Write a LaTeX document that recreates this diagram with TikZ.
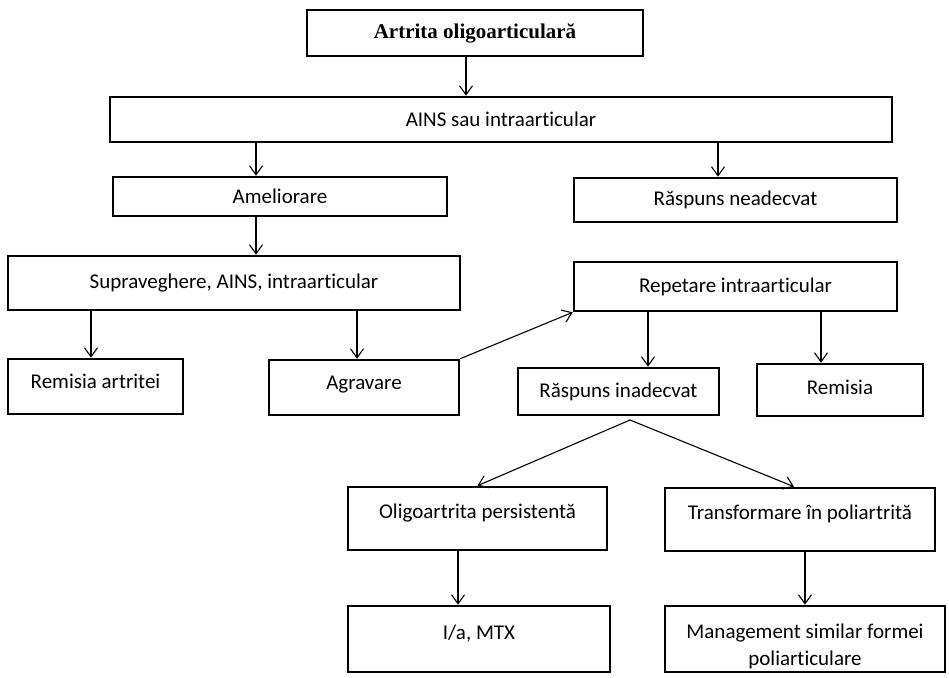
\documentclass[tikz,border=0pt]{standalone}
\usepackage{fontspec}
\setmainfont[Ligatures=NoCommon]{Carlito}
\newfontfamily\titlefont{Liberation Serif}
\usetikzlibrary{arrows.meta}
\tikzset{
  box/.style={draw=black, line width=2.6pt, inner sep=0pt, align=center, font=\fontsize{21}{27}\selectfont},
  arr/.style={line width=1.1pt, -{Straight Barb[length=9pt,width=13pt,line width=1.1pt]}},
  ln/.style={line width=1.1pt}
}
\begin{document}
\begin{tikzpicture}[x=1pt,y=-1pt]
\useasboundingbox (0,0) rectangle (949,677);
\node[box, minimum width=336pt, minimum height=46pt, font=\titlefont\bfseries\fontsize{21}{25}\selectfont] (n1) at (475,33) {Artrita oligoarticulară};
\node[box, minimum width=782pt, minimum height=45pt] (n2) at (501,119.5) {AINS sau intraarticular};
\node[box, minimum width=334pt, minimum height=39pt] (n3) at (280,196.5) {Ameliorare};
\node[box, minimum width=323pt, minimum height=44pt] (n4) at (735.5,200) {Răspuns neadecvat};
\node[box, minimum width=452pt, minimum height=54pt] (n5) at (234,283) {Supraveghere, AINS, intraarticular};
\node[box, minimum width=323pt, minimum height=49pt] (n6) at (735.5,286.5) {Repetare intraarticular};
\node[box, minimum width=175pt, minimum height=55pt, text height=15pt, text depth=11pt] (n7) at (95.5,386.5) {Remisia artritei};
\node[box, minimum width=190pt, minimum height=55pt, text height=15pt, text depth=11pt] (n8) at (364,387.5) {Agravare};
\node[box, minimum width=201pt, minimum height=47pt] (n9) at (618.5,391.5) {Răspuns inadecvat};
\node[box, minimum width=166pt, minimum height=52pt, text height=15pt, text depth=6pt] (n10) at (840,390) {Remisia};
\node[box, minimum width=259pt, minimum height=63pt, text height=15pt, text depth=15pt] (n11) at (477.5,518.5) {Oligoartrita persistentă};
\node[box, minimum width=270pt, minimum height=63pt, text height=15pt, text depth=15pt] (n12) at (800,519.5) {Transformare în poliartrită};
\node[box, minimum width=262pt, minimum height=66pt, text height=15pt, text depth=14pt] (n13) at (479,639) {I/a, MTX};
\node[box, minimum width=280pt, minimum height=66pt] (n14) at (805,639) {\rule{0pt}{30pt}Management similar formei\\poliarticulare};
\coordinate (fork) at (630,420);
% connectors
\draw[arr] (n1.south -| 466,0) -- (n2.north -| 466,0);
\draw[arr] (n2.south -| 256,0) -- (n3.north -| 256,0);
\draw[arr] (n2.south -| 718,0) -- (n4.north -| 718,0);
\draw[arr] (n3.south -| 256,0) -- (n5.north -| 256,0);
\draw[arr] (n5.south -| 91,0) -- (n7.north -| 91,0);
\draw[arr] (n5.south -| 357,0) -- (n8.north -| 357,0);
\draw[arr] (n6.south -| 648,0) -- (n9.north -| 648,0);
\draw[arr] (n6.south -| 821,0) -- (n10.north -| 821,0);
\draw[arr] (n8.north east) -- (n6.south west);
\draw[arr] (fork) -- (n11.north);
\draw[arr] (fork) -- ([xshift=-6pt]n12.north);
\draw[arr] (n11.south -| 458,0) -- (n13.north -| 458,0);
\draw[arr] (n12.south -| 805,0) -- (n14.north -| 805,0);
\end{tikzpicture}
\end{document}
